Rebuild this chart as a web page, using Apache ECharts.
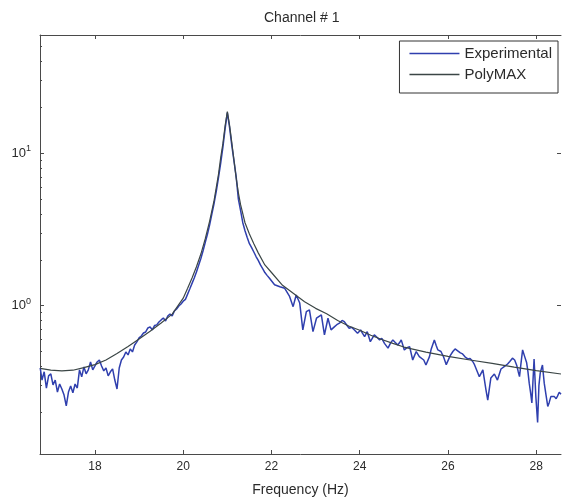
<!DOCTYPE html>
<html>
<head>
<meta charset="utf-8">
<script src="https://cdn.jsdelivr.net/npm/echarts@6/dist/echarts.min.js"></script>
<style>
  html, body { margin: 0; padding: 0; background: #ffffff; }
  #chart { width: 562px; height: 502px; }
</style>
</head>
<body>
<div id="chart"></div>
<script>
// Measured FRF magnitude (Experimental), frequency in Hz
const freqExp = [
  16.76, 16.80, 16.85, 16.90, 16.95, 17.00, 17.05, 17.10, 17.15, 17.20,
  17.25, 17.30, 17.35, 17.40, 17.45, 17.50, 17.55, 17.60, 17.65, 17.70,
  17.75, 17.80, 17.85, 17.90, 17.95, 18.00, 18.05, 18.10, 18.15, 18.20,
  18.25, 18.30, 18.35, 18.40, 18.45, 18.50, 18.55, 18.60, 18.65, 18.70,
  18.75, 18.80, 18.85, 18.90, 18.95, 19.00, 19.05, 19.10, 19.15, 19.20,
  19.25, 19.30, 19.35, 19.40, 19.45, 19.50, 19.55, 19.60, 19.65, 19.70,
  19.75, 19.80, 19.85, 19.90, 19.95, 20.00,
  20.05, 20.10, 20.15, 20.20, 20.25, 20.30, 20.35, 20.40, 20.45, 20.50,
  20.55, 20.60, 20.65, 20.70, 20.75, 20.80, 20.85, 20.90, 20.95, 21.00,
  21.05, 21.10, 21.15, 21.20, 21.25, 21.30, 21.35, 21.40, 21.45, 21.50,
  21.55, 21.60, 21.65, 21.70, 21.75, 21.80, 21.85, 21.90, 21.95,
  22.07, 22.19, 22.30, 22.41, 22.49, 22.56, 22.64, 22.71, 22.79, 22.86,
  22.94, 23.02, 23.13, 23.20, 23.28, 23.35, 23.43, 23.48, 23.54, 23.60,
  23.65, 23.70, 23.76, 23.82, 23.88, 23.95, 24.02, 24.06, 24.11, 24.17,
  24.24, 24.33, 24.39, 24.45, 24.50, 24.56, 24.64, 24.70, 24.75, 24.80,
  24.86, 24.90, 24.94, 25.01, 25.07, 25.13, 25.20, 25.24, 25.28, 25.35,
  25.39, 25.45, 25.50, 25.58, 25.62, 25.69, 25.73, 25.77, 25.84, 25.90,
  25.96, 26.05, 26.11, 26.16, 26.22, 26.28, 26.33, 26.39, 26.45, 26.50,
  26.56, 26.60, 26.64, 26.71, 26.79, 26.86, 26.90, 26.97, 27.01, 27.05,
  27.12, 27.20, 27.28, 27.35, 27.40, 27.46, 27.51, 27.56, 27.59, 27.62,
  27.65, 27.69, 27.73, 27.78, 27.81, 27.84, 27.87, 27.90, 27.95, 27.99,
  28.03, 28.06, 28.09, 28.12, 28.14, 28.18, 28.22, 28.26, 28.29, 28.33,
  28.37, 28.41, 28.45, 28.48, 28.52, 28.56
];
const magExp = [
  0.390, 0.325, 0.368, 0.288, 0.346, 0.357, 0.302, 0.325, 0.271, 0.306,
  0.284, 0.259, 0.220, 0.271, 0.297, 0.268, 0.306, 0.288, 0.379, 0.341,
  0.396, 0.357, 0.379, 0.427, 0.379, 0.402, 0.427, 0.440, 0.402, 0.373,
  0.390, 0.346, 0.368, 0.385, 0.325, 0.284, 0.390, 0.440, 0.460, 0.497,
  0.475, 0.520, 0.497, 0.552, 0.578, 0.614, 0.632, 0.662, 0.672, 0.714,
  0.725, 0.693, 0.740, 0.748, 0.781, 0.806, 0.830, 0.793, 0.856, 0.882,
  0.856, 0.923, 0.951, 0.995, 1.026, 1.070,
  1.10, 1.19, 1.29, 1.40, 1.52, 1.66, 1.84, 2.04, 2.29, 2.60,
  2.95, 3.40, 4.00, 4.70, 5.65, 6.95, 8.65, 11.0, 14.5, 18.5,
  14.8, 11.3, 8.9, 7.0, 5.0, 4.2, 3.50, 3.10, 2.80, 2.55,
  2.40, 2.25, 2.10, 1.98, 1.85, 1.75, 1.65, 1.58, 1.52,
  1.37, 1.33, 1.30, 1.15, 0.985, 1.175, 1.04, 0.693, 0.913, 0.937,
  0.675, 0.827, 0.869, 0.643, 0.827, 0.693, 0.728, 0.750, 0.767, 0.800,
  0.785, 0.750, 0.711, 0.720, 0.693, 0.659, 0.693, 0.660, 0.626, 0.675,
  0.580, 0.643, 0.620, 0.596, 0.610, 0.566, 0.526, 0.570, 0.596, 0.575,
  0.552, 0.570, 0.596, 0.512, 0.530, 0.538, 0.440, 0.470, 0.500, 0.463,
  0.475, 0.440, 0.408, 0.463, 0.520, 0.596, 0.550, 0.512, 0.500, 0.460,
  0.410, 0.470, 0.500, 0.520, 0.505, 0.490, 0.482, 0.460, 0.447, 0.450,
  0.430, 0.410, 0.398, 0.342, 0.379, 0.280, 0.240, 0.335, 0.345, 0.356,
  0.325, 0.384, 0.400, 0.414, 0.430, 0.452, 0.440, 0.403, 0.370, 0.342,
  0.410, 0.512, 0.470, 0.424, 0.370, 0.310, 0.270, 0.230, 0.447, 0.253,
  0.171, 0.300, 0.362, 0.390, 0.408, 0.310, 0.260, 0.218, 0.230, 0.253,
  0.260, 0.253, 0.245, 0.255, 0.270, 0.262
];

// PolyMAX modal model synthesis
const freqFit = [
  16.76, 17.00, 17.25, 17.50, 17.75, 18.00, 18.25, 18.50, 18.75, 19.00,
  19.25, 19.50, 19.75, 20.00, 20.10, 20.20, 20.30, 20.40, 20.50, 20.60,
  20.70, 20.80, 20.85, 20.90, 20.95, 21.00, 21.05, 21.10, 21.15, 21.20,
  21.25, 21.30, 21.40, 21.50, 21.60, 21.70, 21.85, 22.00, 22.25, 22.50,
  22.75, 23.00, 23.25, 23.50, 23.75, 24.00, 24.25, 24.50, 24.75, 25.00,
  25.50, 26.00, 26.50, 27.00, 27.50, 28.00, 28.56
];
const magFit = [
  0.388, 0.378, 0.373, 0.377, 0.392, 0.410, 0.440, 0.485, 0.540, 0.605,
  0.680, 0.770, 0.880, 1.12, 1.30, 1.52, 1.80, 2.18, 2.75, 3.60,
  4.90, 7.30, 9.40, 11.6, 15.2, 18.8, 15.3, 11.8, 9.0, 6.9,
  5.5, 4.6, 3.5, 2.95, 2.55, 2.22, 1.85, 1.65, 1.36, 1.20,
  1.06, 0.960, 0.885, 0.800, 0.735, 0.690, 0.640, 0.600, 0.565, 0.535,
  0.495, 0.465, 0.440, 0.418, 0.395, 0.375, 0.356
];

// Axis ticks
const xTicks = [18, 20, 22, 24, 26, 28];
const yTicks = [1, 10];
const yMinorTicks = [0.2, 0.3, 0.4, 0.5, 0.6, 0.7, 0.8, 0.9, 2, 3, 4, 5, 6, 7, 8, 9, 20, 30, 40, 50];

const X_MIN = 16.755, X_MAX = 28.56;
const Y_MIN = 0.1063, Y_MAX = 59.7;

const axisColor = '#4a4a4a';
const textColor = '#2b2b2b';
const fontFamily = '"Liberation Sans", Arial, Helvetica, sans-serif';

const chart = echarts.init(document.getElementById('chart'), null, { renderer: 'canvas' });

function pairs(xs, ys) { return xs.map((x, i) => [x, ys[i]]); }

const supLabel = v => {
  const e = Math.round(Math.log10(v));
  return '{b|10}{s|' + e + '}';
};

chart.setOption({
  animation: false,
  backgroundColor: '#ffffff',
  title: {
    text: 'Channel # 1',
    left: 259,
    top: 6,
    textStyle: { fontFamily, fontSize: 14, fontWeight: 'normal', color: textColor }
  },
  legend: {
    orient: 'vertical',
    right: 4,
    top: 41,
    icon: 'rect',
    itemWidth: 50,
    itemHeight: 1.6,
    itemGap: 6,
    padding: [5, 6, 11, 10],
    borderColor: '#333333',
    borderWidth: 1,
    backgroundColor: '#ffffff',
    selectedMode: false,
    textStyle: { fontFamily, fontSize: 15, color: textColor },
    data: ['Experimental', 'PolyMAX']
  },
  grid: { left: 40, right: 1, top: 35, bottom: 48, containLabel: false },
  xAxis: [
    {
      type: 'value',
      min: X_MIN,
      max: X_MAX,
      name: 'Frequency (Hz)',
      nameLocation: 'middle',
      nameGap: 29,
      nameTextStyle: { fontFamily, fontSize: 14, color: textColor },
      axisLine: { show: true, lineStyle: { color: axisColor, width: 1 } },
      axisTick: { show: true, inside: true, length: 4, customValues: xTicks, lineStyle: { color: axisColor } },
      axisLabel: { customValues: xTicks, margin: 7, fontFamily, fontSize: 12, color: textColor },
      splitLine: { show: false }
    },
    {
      type: 'value',
      position: 'top',
      min: X_MIN,
      max: X_MAX,
      axisLine: { show: true, lineStyle: { color: axisColor, width: 1 } },
      axisTick: { show: true, inside: true, length: 4, customValues: xTicks, lineStyle: { color: axisColor } },
      axisLabel: { show: false },
      splitLine: { show: false }
    }
  ],
  yAxis: [
    {
      type: 'log',
      logBase: 10,
      min: Y_MIN,
      max: Y_MAX,
      axisLine: { show: true, lineStyle: { color: axisColor, width: 1 } },
      axisTick: { show: true, inside: true, length: 4, customValues: yTicks, lineStyle: { color: axisColor } },
      axisLabel: {
        customValues: yTicks,
        margin: 9,
        formatter: supLabel,
        rich: {
          b: { fontFamily, fontSize: 13, color: textColor },
          s: { fontFamily, fontSize: 9, color: textColor, padding: [0, 0, 9, 0] }
        }
      },
      splitLine: { show: false }
    },
    {
      type: 'log',
      logBase: 10,
      position: 'left',
      min: Y_MIN,
      max: Y_MAX,
      axisLine: { show: false },
      axisTick: { show: true, inside: true, length: 2, customValues: yMinorTicks, lineStyle: { color: axisColor } },
      axisLabel: { show: false },
      splitLine: { show: false }
    },
    {
      type: 'log',
      logBase: 10,
      position: 'right',
      min: Y_MIN,
      max: Y_MAX,
      axisLine: { show: false },
      axisTick: { show: true, inside: true, length: 4, customValues: yTicks, lineStyle: { color: axisColor } },
      axisLabel: { show: false },
      splitLine: { show: false }
    }
  ],
  series: [
    {
      name: 'Experimental',
      type: 'line',
      xAxisIndex: 0,
      yAxisIndex: 0,
      data: pairs(freqExp, magExp),
      symbol: 'none',
      smooth: false,
      clip: true,
      color: '#2f3fae',
      lineStyle: { color: '#2f3fae', width: 1.5 },
      z: 2
    },
    {
      name: 'PolyMAX',
      type: 'line',
      xAxisIndex: 0,
      yAxisIndex: 0,
      data: pairs(freqFit, magFit),
      symbol: 'none',
      smooth: false,
      clip: true,
      color: '#3b4646',
      lineStyle: { color: '#3b4646', width: 1.2 },
      z: 3
    }
  ]
});
</script>
</body>
</html>
